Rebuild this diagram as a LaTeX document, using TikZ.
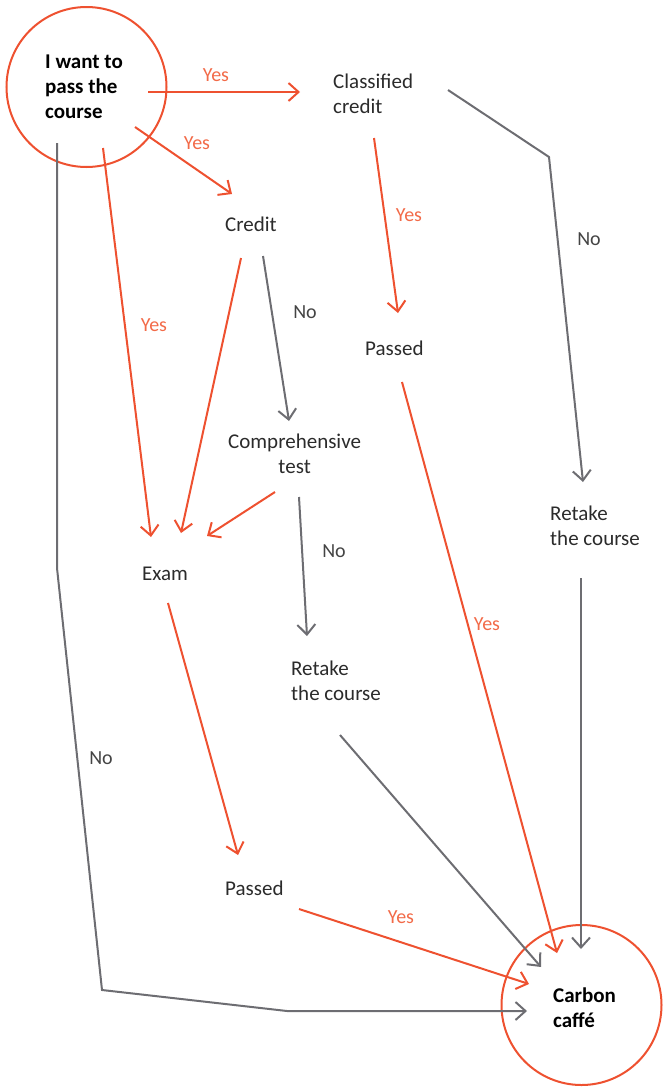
\documentclass[tikz,border=0pt]{standalone}
\usepackage{fontspec}
\setmainfont{Carlito}
\usetikzlibrary{arrows.meta}
\definecolor{acc}{HTML}{EE5130}
\definecolor{accl}{HTML}{F26A48}
\definecolor{ln}{HTML}{6D6D72}
\definecolor{tx}{HTML}{2B2B2B}
\definecolor{lbl}{HTML}{444444}
\begin{document}
\begin{tikzpicture}[x=1pt,y=-1pt,
  txt/.style={font=\fontsize{21}{25}\selectfont, text=tx, inner sep=0pt, anchor=base west, align=left},
  btxt/.style={txt, font=\fontsize{21}{25}\selectfont\bfseries, text=black},
  yes/.style={font=\fontsize{20}{24}\selectfont, text=accl, inner sep=0pt},
  no/.style={font=\fontsize{20}{24}\selectfont, text=lbl, inner sep=0pt},
  tip/.style={-{Straight Barb[length=10pt,width=18pt,line width=2pt]}},
  oarr/.style={draw=acc, line width=2pt, tip},
  garr/.style={draw=ln, line width=2pt, tip, line join=miter},
  ring/.style={draw=acc, line width=2pt, circle, minimum size=160pt, inner sep=0pt}
]
\useasboundingbox (0,0) rectangle (670,1087);
% circles
\node[ring] (start) at (86.5,87) {};
\node[ring] (cafe) at (581.5,1005) {};
\node[btxt] (starttext) at (45,118) {I want to\\pass the\\course};
\node[btxt] (cafetext) at (553,1027) {Carbon\\caffé};
% text nodes (base = baseline of last line)
\node[txt] (classified) at (333,113) {Classified\\credit};
\node[txt] (credit) at (225,231) {Credit};
\node[txt] (passedA) at (365,355) {Passed};
\node[txt, align=center] (comp) at (228,473) {Comprehensive\\test};
\node[txt] (exam) at (142,580) {Exam};
\node[txt] (retakeA) at (291,700) {Retake\\the course};
\node[txt] (retakeB) at (550,545) {Retake\\the course};
\node[txt] (passedB) at (225,895) {Passed};
% labels
\node[yes] (y1) at (216,75) {Yes};
\node[yes] (y2) at (197,143) {Yes};
\node[yes] (y3) at (409,215) {Yes};
\node[yes] (y4) at (154,325) {Yes};
\node[yes] (y5) at (487,624) {Yes};
\node[yes] (y6) at (401,917) {Yes};
\node[no] (n1) at (589,239) {No};
\node[no] (n2) at (305,312) {No};
\node[no] (n3) at (334,551) {No};
\node[no] (n4) at (101,758) {No};
% connector endpoints
\coordinate (s1) at (148,92);   \coordinate (e1) at (300,92);
\coordinate (s2) at (135,127);  \coordinate (e2) at (232,194);
\coordinate (s3) at (103,148);  \coordinate (e3) at (151,537);
\coordinate (s4) at (57,143);   \coordinate (c4a) at (57,568);
\coordinate (c4b) at (102,990); \coordinate (c4c) at (287,1011); \coordinate (e4) at (527,1011);
\coordinate (s5) at (448,90);   \coordinate (c5) at (549,157);   \coordinate (e5) at (583,482);
\coordinate (s6) at (374,138);  \coordinate (e6) at (398,313);
\coordinate (s7) at (263,256);  \coordinate (e7) at (289,421);
\coordinate (s8) at (241,258);  \coordinate (e8) at (181,533);
\coordinate (s9) at (275,492);  \coordinate (e9) at (207,536);
\coordinate (s10) at (299,497); \coordinate (e10) at (307,636);
\coordinate (s11) at (402,382); \coordinate (e11) at (557,953);
\coordinate (s12) at (168,603); \coordinate (e12) at (238,855);
\coordinate (s13) at (299,909); \coordinate (e13) at (529,984);
\coordinate (s14) at (340,735); \coordinate (e14) at (541,967);
\coordinate (s15) at (581,578); \coordinate (e15) at (581,949);
% connectors
\draw[oarr] (s1) -- (e1);
\draw[oarr] (s2) -- (e2);
\draw[oarr] (s3) -- (e3);
\draw[garr] (s4) -- (c4a) -- (c4b) -- (c4c) -- (e4);
\draw[garr] (s5) -- (c5) -- (e5);
\draw[oarr] (s6) -- (e6);
\draw[garr] (s7) -- (e7);
\draw[oarr] (s8) -- (e8);
\draw[oarr] (s9) -- (e9);
\draw[garr] (s10) -- (e10);
\draw[oarr] (s11) -- (e11);
\draw[oarr] (s12) -- (e12);
\draw[oarr] (s13) -- (e13);
\draw[garr] (s14) -- (e14);
\draw[garr] (s15) -- (e15);
\end{tikzpicture}
\end{document}
